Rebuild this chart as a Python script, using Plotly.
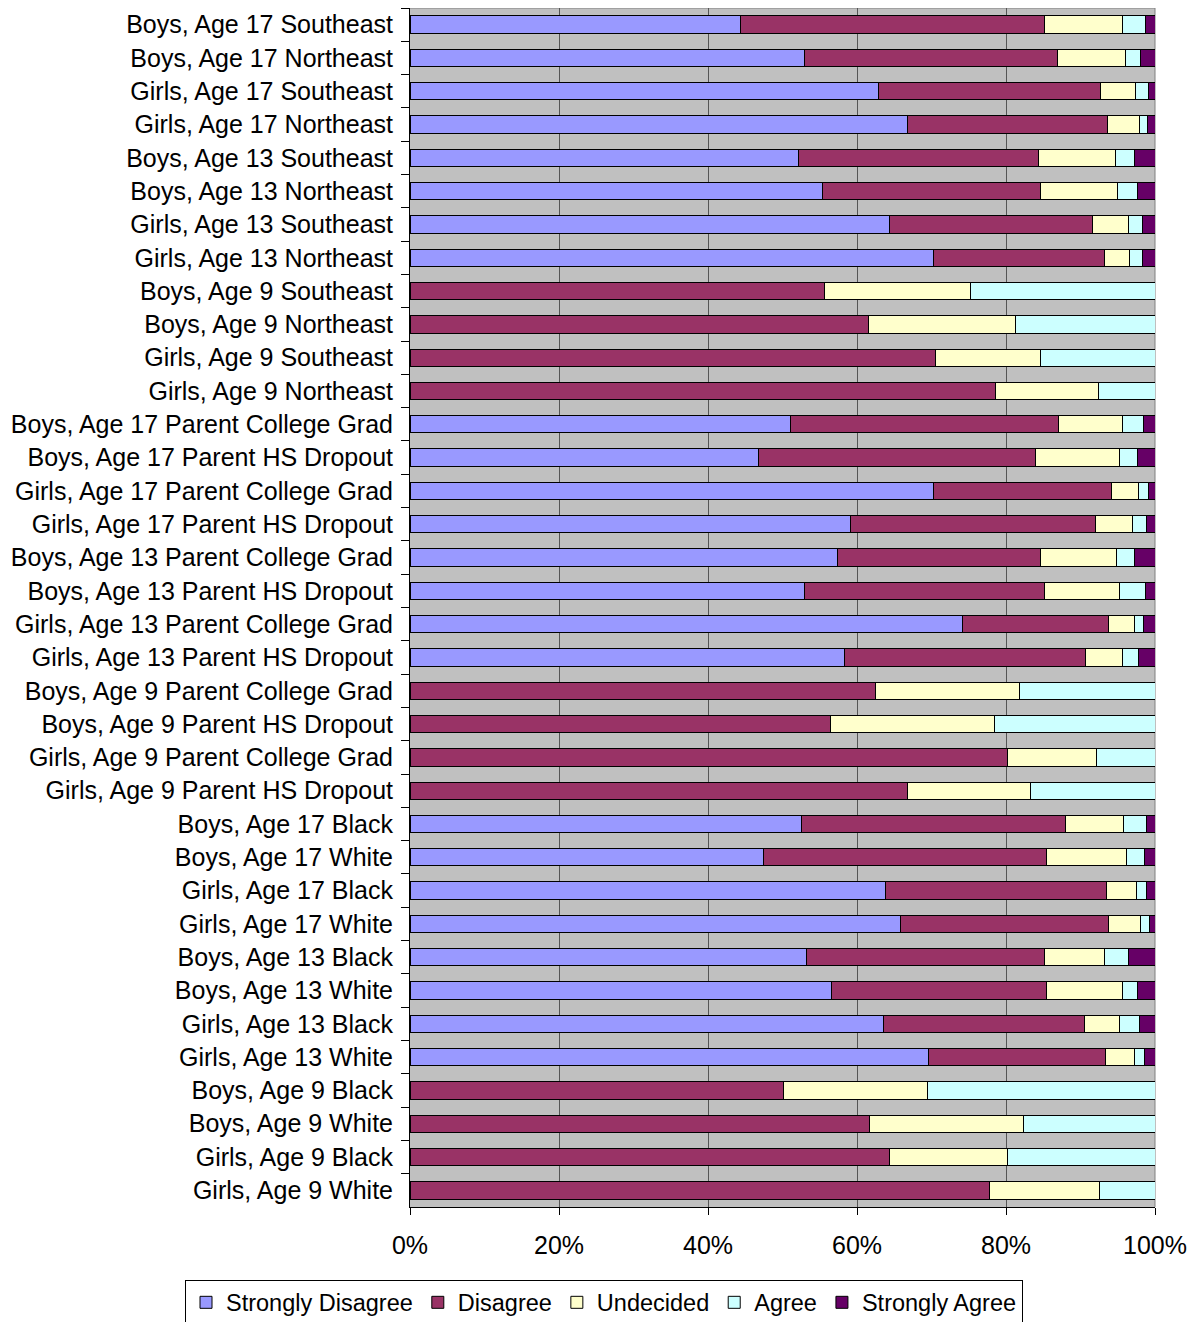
import plotly.graph_objects as go

categories = [
    "Boys, Age 17 Southeast", "Boys, Age 17 Northeast", "Girls, Age 17 Southeast", "Girls, Age 17 Northeast",
    "Boys, Age 13 Southeast", "Boys, Age 13 Northeast", "Girls, Age 13 Southeast", "Girls, Age 13 Northeast",
    "Boys, Age 9 Southeast", "Boys, Age 9 Northeast", "Girls, Age 9 Southeast", "Girls, Age 9 Northeast",
    "Boys, Age 17 Parent College Grad", "Boys, Age 17 Parent HS Dropout",
    "Girls, Age 17 Parent College Grad", "Girls, Age 17 Parent HS Dropout",
    "Boys, Age 13 Parent College Grad", "Boys, Age 13 Parent HS Dropout",
    "Girls, Age 13 Parent College Grad", "Girls, Age 13 Parent HS Dropout",
    "Boys, Age 9 Parent College Grad", "Boys, Age 9 Parent HS Dropout",
    "Girls, Age 9 Parent College Grad", "Girls, Age 9 Parent HS Dropout",
    "Boys, Age 17 Black", "Boys, Age 17 White", "Girls, Age 17 Black", "Girls, Age 17 White",
    "Boys, Age 13 Black", "Boys, Age 13 White", "Girls, Age 13 Black", "Girls, Age 13 White",
    "Boys, Age 9 Black", "Boys, Age 9 White", "Girls, Age 9 Black", "Girls, Age 9 White",
]

strongly_disagree = [44.4, 52.9, 62.9, 66.8, 52.1, 55.4, 64.3, 70.3, 0, 0, 0, 0,
                     51.1, 46.8, 70.3, 59.1, 57.4, 53.0, 74.2, 58.3, 0, 0, 0, 0,
                     52.5, 47.5, 63.8, 65.9, 53.2, 56.6, 63.6, 69.6, 0, 0, 0, 0]
disagree = [40.8, 34.0, 29.8, 26.8, 32.2, 29.2, 27.3, 22.9, 55.7, 61.5, 70.6, 78.6,
            35.9, 37.1, 23.9, 32.9, 27.2, 32.2, 19.6, 32.4, 62.5, 56.4, 80.2, 66.8,
            35.5, 37.9, 29.7, 27.9, 32.0, 28.8, 26.9, 23.8, 50.2, 61.7, 64.4, 77.8]
undecided = [10.5, 9.2, 4.7, 4.3, 10.4, 10.3, 4.8, 3.4, 19.5, 19.8, 14.0, 13.8,
             8.7, 11.4, 3.6, 5.0, 10.2, 10.1, 3.4, 5.0, 19.3, 22.0, 12.0, 16.5,
             7.8, 10.8, 4.0, 4.3, 8.0, 10.2, 4.8, 3.9, 19.3, 20.7, 15.8, 14.8]
agree = [3.0, 2.0, 1.7, 1.1, 2.6, 2.7, 1.9, 1.7, 24.8, 18.7, 15.4, 7.6,
         2.8, 2.3, 1.3, 1.9, 2.5, 3.4, 1.3, 2.1, 18.2, 21.6, 7.8, 16.7,
         3.0, 2.4, 1.3, 1.1, 3.2, 2.1, 2.6, 1.3, 30.5, 17.6, 19.8, 7.4]
strongly_agree = [1.3, 1.9, 0.9, 1.0, 2.7, 2.4, 1.7, 1.7, 0, 0, 0, 0,
                  1.5, 2.4, 0.9, 1.1, 2.7, 1.3, 1.5, 2.2, 0, 0, 0, 0,
                  1.2, 1.4, 1.2, 0.8, 3.6, 2.3, 2.1, 1.4, 0, 0, 0, 0]

series_names = ["Strongly Disagree", "Disagree", "Undecided", "Agree", "Strongly Agree"]
series_values = [strongly_disagree, disagree, undecided, agree, strongly_agree]
colors = ["#9999FF", "#993366", "#FFFFCC", "#CCFFFF", "#660066"]

FONT = "Arial, 'Liberation Sans', sans-serif"

fig = go.Figure()
for name, vals, col in zip(series_names, series_values, colors):
    fig.add_trace(go.Bar(
        name=name, y=categories, x=vals, orientation="h",
        marker=dict(color=col, line=dict(color="black", width=1)),
    ))

fig.update_layout(
    barmode="stack",
    bargap=0.48,
    width=1188, height=1314,
    margin=dict(l=402, r=41, t=0, b=115, autoexpand=False),
    paper_bgcolor="white",
    plot_bgcolor="#C0C0C0",
    font=dict(family=FONT, size=25, color="black"),
    legend=dict(
        orientation="h", x=-0.302, xanchor="left", y=-0.0605, yanchor="top",
        bordercolor="black", borderwidth=1, bgcolor="white",
        font=dict(size=23.5), itemwidth=30, traceorder="normal",
    ),
    xaxis=dict(
        range=[0, 100], dtick=20, ticksuffix="%",
        showgrid=True, gridcolor="#555555", gridwidth=1,
        showline=True, linecolor="black", linewidth=1,
        ticks="outside", ticklen=7, tickcolor="black",
        ticklabelstandoff=9, zeroline=False, automargin=False,
    ),
    yaxis=dict(
        autorange="reversed", showgrid=False,
        showline=True, linecolor="black", linewidth=1,
        ticks="outside", ticklen=8, tickcolor="black", tickson="boundaries",
        ticklabelstandoff=11, automargin=False,
    ),
    shapes=[
        dict(type="line", xref="paper", yref="paper", x0=0, x1=1, y0=1, y1=1,
             line=dict(color="#808080", width=1), layer="below"),
        dict(type="line", xref="paper", yref="paper", x0=1, x1=1, y0=0, y1=1,
             line=dict(color="#808080", width=1), layer="below"),
    ],
)

fig.write_html("out.html")
